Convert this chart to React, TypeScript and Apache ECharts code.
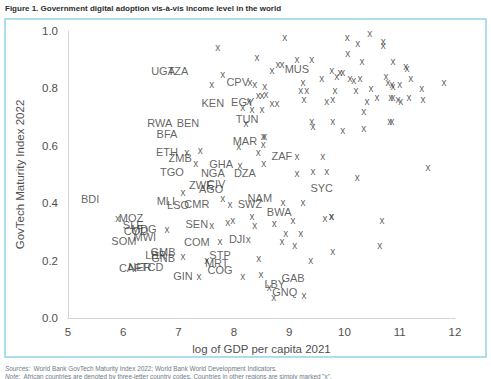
import React, { useEffect, useRef } from "react";
import * as echarts from "echarts";

const titleText = "Figure 1. Government digital adoption vis-à-vis income level in the world";
const sourcesText = "World Bank GovTech Maturity Index 2022; World Bank World Development Indicators.";
const noteText = "African countries are denoted by three-letter country codes. Countries in other regions are simply marked \"x\".";
const xAxisTitle = "log of GDP per capita 2021";
const yAxisTitle = "GovTech Maturity Index 2022";

// African countries: [log GDP per capita, GTMI, code]
const africa: [number, number, string][] = [
  [6.72, 0.861, "UGA"], [6.99, 0.861, "TZA"], [7.62, 0.749, "KEN"], [8.07, 0.822, "CPV"],
  [8.16, 0.753, "EGY"], [9.14, 0.868, "MUS"], [6.66, 0.679, "RWA"], [7.17, 0.679, "BEN"],
  [6.79, 0.641, "BFA"], [6.79, 0.578, "ETH"], [7.03, 0.557, "ZMB"], [8.24, 0.693, "TUN"],
  [8.2, 0.617, "MAR"], [8.87, 0.564, "ZAF"], [7.77, 0.537, "GHA"], [6.88, 0.509, "TGO"],
  [7.62, 0.505, "NGA"], [8.2, 0.505, "DZA"], [7.41, 0.463, "ZWE"], [7.68, 0.467, "CIV"],
  [7.59, 0.449, "AGO"], [9.59, 0.453, "SYC"], [5.4, 0.415, "BDI"], [6.77, 0.408, "MLI"],
  [6.99, 0.394, "LSO"], [7.33, 0.397, "CMR"], [8.47, 0.418, "NAM"], [8.29, 0.397, "SWZ"],
  [8.82, 0.369, "BWA"], [6.14, 0.348, "MOZ"], [6.18, 0.324, "SLE"], [6.23, 0.303, "COD"],
  [6.37, 0.31, "MDG"], [6.39, 0.282, "MWI"], [6.01, 0.268, "SOM"], [7.33, 0.328, "SEN"],
  [7.33, 0.265, "COM"], [8.06, 0.275, "DJI"], [7.75, 0.22, "STP"], [7.69, 0.192, "MRT"],
  [7.75, 0.167, "COG"], [6.59, 0.22, "LBR"], [6.72, 0.23, "GMB"], [6.72, 0.209, "GNB"],
  [6.12, 0.174, "CAF"], [6.3, 0.178, "NER"], [6.52, 0.178, "TCD"], [7.08, 0.146, "GIN"],
  [8.74, 0.118, "LBY"], [9.07, 0.139, "GAB"], [8.92, 0.091, "GNQ"],
];

// Countries in other regions: [log GDP per capita, GTMI]
const others: [number, number][] = [
  [7.71, 0.944], [8.92, 0.979], [10.05, 0.976], [10.46, 0.993], [10.24, 0.958], [10.7, 0.965],
  [10.7, 0.951], [10.06, 0.923], [8.42, 0.909], [9.14, 0.899], [9.41, 0.902], [10.32, 0.892],
  [10.88, 0.892], [11.11, 0.878], [11.13, 0.871], [8.69, 0.861], [8.8, 0.882], [8.87, 0.882],
  [9.77, 0.864], [9.92, 0.857], [9.97, 0.857], [9.86, 0.84], [9.59, 0.836], [10.1, 0.836],
  [10.17, 0.829], [10.28, 0.833], [10.75, 0.843], [10.79, 0.819], [10.86, 0.815], [10.88, 0.805],
  [11.0, 0.812], [11.2, 0.836], [11.8, 0.819], [9.25, 0.819], [9.21, 0.794], [9.32, 0.794],
  [9.83, 0.794], [10.21, 0.791], [10.48, 0.798], [11.4, 0.798], [9.27, 0.76], [9.68, 0.756],
  [9.79, 0.763], [10.41, 0.753], [10.59, 0.77], [10.84, 0.77], [10.88, 0.77], [10.97, 0.763],
  [11.02, 0.753], [11.17, 0.77], [11.42, 0.76], [10.35, 0.721], [9.41, 0.683], [9.43, 0.666],
  [9.79, 0.683], [9.97, 0.652], [10.35, 0.659], [10.82, 0.686], [10.86, 0.686], [11.51, 0.526],
  [10.23, 0.488], [9.77, 0.355], [10.68, 0.338], [9.79, 0.233], [10.64, 0.251],
  [7.8, 0.847], [7.6, 0.815], [8.29, 0.822], [8.38, 0.812], [8.56, 0.805], [8.27, 0.753],
  [8.44, 0.774], [8.51, 0.777], [8.58, 0.78], [8.69, 0.749], [8.78, 0.749], [8.16, 0.732],
  [8.33, 0.725], [8.51, 0.725], [8.22, 0.679], [8.53, 0.634], [8.56, 0.631], [8.53, 0.606],
  [8.09, 0.599], [8.44, 0.575], [9.14, 0.564], [9.61, 0.564], [8.54, 0.54], [8.11, 0.533],
  [9.14, 0.502], [9.43, 0.509], [9.68, 0.512],
  [7.15, 0.578], [7.39, 0.582], [7.31, 0.537], [7.08, 0.436], [7.8, 0.415], [7.93, 0.394],
  [5.9, 0.348], [6.79, 0.307], [7.6, 0.324], [7.89, 0.334], [7.98, 0.338], [8.33, 0.355],
  [8.38, 0.321], [8.73, 0.331], [9.07, 0.341], [9.65, 0.348], [9.76, 0.352], [8.89, 0.404],
  [9.25, 0.404], [8.94, 0.296], [9.21, 0.293], [8.87, 0.268], [9.1, 0.254], [8.26, 0.275],
  [7.75, 0.265], [7.08, 0.216], [7.51, 0.202], [8.45, 0.206], [9.39, 0.199], [7.37, 0.143],
  [8.16, 0.143], [8.49, 0.15], [8.64, 0.105], [8.72, 0.07], [9.27, 0.077],
];

const xTicks = [5, 6, 7, 8, 9, 10, 11, 12];
const yTicks = [0, 0.2, 0.4, 0.6, 0.8, 1.0];

export default function App() {
  const ref = useRef<HTMLDivElement>(null);
  useEffect(() => {
    if (!ref.current) return;
    const chart = echarts.init(ref.current, null, { renderer: "svg" });
    const markColor = "#3a3a3a";
    const font = "Liberation Sans, Arial, sans-serif";
    chart.setOption({
      animation: false,
      backgroundColor: "#ffffff",
      textStyle: { fontFamily: font },
      grid: { left: 68, right: 36, top: 31, bottom: 61, outerBoundsMode: "none" },
      xAxis: {
        type: "value",
        min: xTicks[0],
        max: xTicks[xTicks.length - 1],
        interval: 1,
        name: xAxisTitle,
        nameLocation: "middle",
        nameGap: 20,
        nameTextStyle: { fontSize: 11.5, color: "#505050" },
        axisLine: { show: true, lineStyle: { color: "#d4d4d4", width: 1 } },
        axisTick: { show: false },
        splitLine: { show: false },
        axisLabel: { fontSize: 11.5, color: "#505050", margin: 8 },
      },
      yAxis: {
        type: "value",
        min: yTicks[0],
        max: yTicks[yTicks.length - 1],
        interval: 0.2,
        name: yAxisTitle,
        nameLocation: "middle",
        nameGap: 42,
        nameTextStyle: { fontSize: 11.5, color: "#505050" },
        axisLine: { show: true, lineStyle: { color: "#d4d4d4", width: 1 } },
        axisTick: { show: false },
        splitLine: { show: false },
        axisLabel: {
          fontSize: 11.5,
          color: "#505050",
          margin: 10,
          formatter: (v: number) => v.toFixed(1),
        },
      },
      series: [
        {
          type: "scatter",
          name: "Other regions",
          symbolSize: 1,
          itemStyle: { color: "rgba(0,0,0,0)" },
          data: others.map((d) => ({ value: [d[0], d[1]] })),
          label: {
            show: true,
            position: "inside",
            formatter: "x",
            fontSize: 10,
            color: markColor,
            lineHeight: 10,
          },
        },
        {
          type: "scatter",
          name: "Africa",
          symbolSize: 1,
          itemStyle: { color: "rgba(0,0,0,0)" },
          data: africa.map((d) => ({ value: [d[0], d[1]], name: d[2] })),
          label: {
            show: true,
            position: "inside",
            formatter: (p: any) => p.name,
            fontSize: 11,
            color: markColor,
            lineHeight: 11,
          },
        },
      ],
      graphic: [
        {
          type: "text",
          left: 5,
          top: 4,
          style: {
            text: titleText,
            fontSize: 8,
            fontWeight: "bold",
            fill: "#2e2e2e",
            fontFamily: font,
          },
        },
        {
          type: "rect",
          shape: { x: 5, y: 19, width: 481, height: 338 },
          style: { fill: "none", stroke: "#93d3e8", lineWidth: 1.5 },
          silent: true,
        },
        {
          type: "text",
          left: 5,
          top: 362,
          style: {
            rich: {
              i: { fontStyle: "italic", fontSize: 6.4, fill: "#707a84", fontFamily: font },
              n: { fontSize: 6.4, fill: "#707a84", fontFamily: font },
            },
            text: "{i|Sources:} {n|" + sourcesText + "}",
          },
        },
        {
          type: "text",
          left: 5,
          top: 370,
          style: {
            rich: {
              i: { fontStyle: "italic", fontSize: 6.4, fill: "#707a84", fontFamily: font },
              n: { fontSize: 6.4, fill: "#707a84", fontFamily: font },
            },
            text: "{i|Note:} {n|" + noteText + "}",
          },
        },
      ],
    });
    return () => chart.dispose();
  }, []);
  return (
    <div
      ref={ref}
      style={{ position: "fixed", left: 0, top: 0, width: 491, height: 379, background: "#fff" }}
    />
  );
}
